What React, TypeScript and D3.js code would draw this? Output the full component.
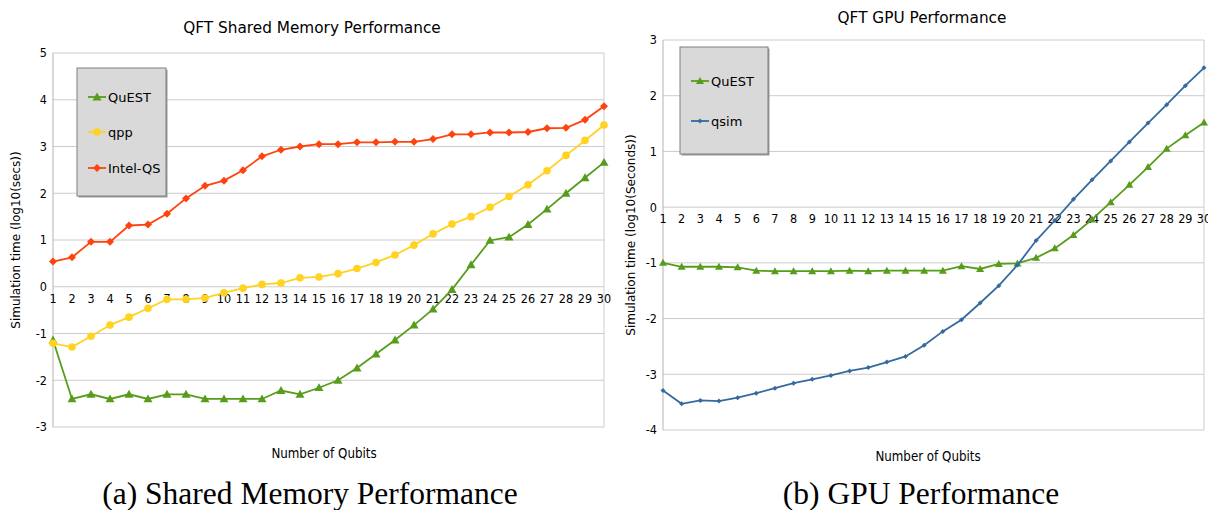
import React from "react";
import * as d3 from "d3";

const qubits = d3.range(1, 31);

// Shared memory chart
const smQuEST = [-1.14, -2.4, -2.3, -2.4, -2.3, -2.4, -2.3, -2.3, -2.4, -2.4, -2.4, -2.4, -2.22, -2.3, -2.16, -2.0, -1.74, -1.44, -1.14, -0.82, -0.48, -0.06, 0.47, 0.99, 1.06, 1.33, 1.66, 2.0, 2.33, 2.66];
const smQpp = [-1.21, -1.29, -1.06, -0.82, -0.65, -0.46, -0.27, -0.27, -0.24, -0.13, -0.03, 0.05, 0.08, 0.19, 0.21, 0.28, 0.39, 0.52, 0.68, 0.89, 1.13, 1.34, 1.5, 1.7, 1.93, 2.18, 2.48, 2.81, 3.13, 3.46];
const smIntel = [0.54, 0.63, 0.96, 0.96, 1.31, 1.33, 1.56, 1.89, 2.16, 2.27, 2.49, 2.79, 2.93, 3.0, 3.05, 3.05, 3.09, 3.09, 3.1, 3.1, 3.16, 3.26, 3.26, 3.3, 3.3, 3.31, 3.39, 3.4, 3.57, 3.86];
const smYTicks = [-3, -2, -1, 0, 1, 2, 3, 4, 5];

// GPU chart
const gpuQuEST = [-1.0, -1.07, -1.07, -1.07, -1.08, -1.14, -1.15, -1.15, -1.15, -1.15, -1.14, -1.15, -1.14, -1.14, -1.14, -1.14, -1.06, -1.11, -1.02, -1.01, -0.91, -0.74, -0.5, -0.22, 0.09, 0.4, 0.72, 1.05, 1.29, 1.52];
const gpuQsim = [-3.29, -3.53, -3.47, -3.48, -3.42, -3.34, -3.25, -3.16, -3.09, -3.02, -2.94, -2.88, -2.78, -2.68, -2.48, -2.23, -2.02, -1.72, -1.41, -1.04, -0.6, -0.24, 0.14, 0.49, 0.83, 1.17, 1.51, 1.84, 2.18, 2.5];
const gpuYTicks = [-4, -3, -2, -1, 0, 1, 2, 3];

type Marker = "triangle" | "circle" | "diamond";
interface Series {
  name: string;
  values: number[];
  color: string;
  marker: Marker;
  size: number;
}

const FONT = "DejaVu Sans Condensed, DejaVu Sans, sans-serif";

function markerPath(m: Marker, s: number) {
  if (m === "triangle") return `M0,${-s}L${s},${s * 0.75}L${-s},${s * 0.75}Z`;
  if (m === "diamond") return `M0,${-s}L${s},0L0,${s}L${-s},0Z`;
  return "";
}

function MarkerShape({ m, s, color, x, y }: { m: Marker; s: number; color: string; x: number; y: number }) {
  if (m === "circle") return <circle cx={x} cy={y} r={s} fill={color} />;
  return <path d={markerPath(m, s)} transform={`translate(${x},${y})`} fill={color} />;
}

interface ChartProps {
  title: string;
  titleX: number;
  titleY: number;
  x0: number;
  x1: number;
  yTop: number;
  yBottom: number;
  yTicks: number[];
  series: Series[];
  yLabel: string;
  yLabelX: number;
  xLabelX: number;
  xLabelY: number;
  legend: { x: number; y: number; w: number; h: number; rows: number[] };
  caption: string;
  captionX: number;
}

function Chart(p: ChartProps) {
  const x = d3.scaleLinear().domain([1, 30]).range([p.x0, p.x1]);
  const ymin = d3.min(p.yTicks)!;
  const ymax = d3.max(p.yTicks)!;
  const y = d3.scaleLinear().domain([ymin, ymax]).range([p.yBottom, p.yTop]);
  const line = d3
    .line<number>()
    .x((_, i) => x(qubits[i]))
    .y((d) => y(d));
  const yMid = (p.yTop + p.yBottom) / 2;
  return (
    <g>
      <text x={p.titleX} y={p.titleY} textAnchor="middle" fontFamily="DejaVu Sans, sans-serif" fontSize={15.3} fill="#000">
        {p.title}
      </text>
      {p.yTicks.map((t) => (
        <line key={t} x1={p.x0} x2={p.x1} y1={y(t)} y2={y(t)} stroke="#cccccc" strokeWidth={1} />
      ))}
      <line x1={p.x1} x2={p.x1} y1={p.yTop} y2={p.yBottom} stroke="#cccccc" />
      <line x1={p.x0} x2={p.x0} y1={p.yTop} y2={p.yBottom} stroke="#b3b3b3" />
      {p.yTicks.map((t) => (
        <text key={t} x={p.x0 - 6} y={y(t)} dy="0.35em" textAnchor="end" fontFamily={FONT} fontSize={12.5} fill="#000">
          {t}
        </text>
      ))}
      {qubits.map((q) => (
        <text key={q} x={x(q)} y={y(0) + 16} textAnchor="middle" fontFamily={FONT} fontSize={12.5} fill="#000">
          {q}
        </text>
      ))}
      {p.series.map((s) => (
        <g key={s.name}>
          <path d={line(s.values) || ""} fill="none" stroke={s.color} strokeWidth={1.8} />
          {s.values.map((v, i) => (
            <MarkerShape key={i} m={s.marker} s={s.size} color={s.color} x={x(qubits[i])} y={y(v)} />
          ))}
        </g>
      ))}
      <rect x={p.legend.x + 1.5} y={p.legend.y + 1.5} width={p.legend.w} height={p.legend.h} fill="#9a9a9a" />
      <rect x={p.legend.x} y={p.legend.y} width={p.legend.w} height={p.legend.h} fill="#d9d9d9" stroke="#808080" strokeWidth={1} />
      {p.series.map((s, i) => {
        const ly = p.legend.rows[i];
        const lx = p.legend.x + 11;
        return (
          <g key={s.name}>
            <line x1={lx} x2={lx + 18} y1={ly} y2={ly} stroke={s.color} strokeWidth={1.8} />
            <MarkerShape m={s.marker} s={s.size} color={s.color} x={lx + 9} y={ly} />
            <text x={lx + 20} y={ly} dy="0.35em" fontFamily="DejaVu Sans, sans-serif" fontSize={13} fill="#000">
              {s.name}
            </text>
          </g>
        );
      })}
      <text x={p.xLabelX} y={p.xLabelY} textAnchor="middle" fontFamily={FONT} fontSize={13.2} fill="#000">
        Number of Qubits
      </text>
      <text
        transform={`translate(${p.yLabelX},${yMid}) rotate(-90)`}
        textAnchor="middle"
        dy="0.35em"
        fontFamily="DejaVu Sans, sans-serif"
        fontSize={12}
        fill="#000"
      >
        {p.yLabel}
      </text>
      <text x={p.captionX} y={504} textAnchor="middle" fontFamily="Liberation Serif, DejaVu Serif, serif" fontSize={31.5} fill="#000">
        {p.caption}
      </text>
    </g>
  );
}

export default function App() {
  const green = "#579d1c";
  const yellow = "#ffd320";
  const orange = "#ff420e";
  const blue = "#356aa0";
  return (
    <svg width={1208} height={510} style={{ position: "absolute", left: 0, top: 0, background: "#fff" }}>
      <rect width={1208} height={510} fill="#fff" />
      <Chart
        title="QFT Shared Memory Performance"
        titleX={312}
        titleY={33}
        x0={53}
        x1={604}
        yTop={53}
        yBottom={427}
        yTicks={smYTicks}
        series={[
          { name: "QuEST", values: smQuEST, color: green, marker: "triangle", size: 4.5 },
          { name: "qpp", values: smQpp, color: yellow, marker: "circle", size: 3.8 },
          { name: "Intel-QS", values: smIntel, color: orange, marker: "diamond", size: 4 },
        ]}
        yLabel="Simulation time (log10(secs))"
        yLabelX={16}
        xLabelX={324}
        xLabelY={458}
        legend={{ x: 77, y: 68, w: 89, h: 128, rows: [97, 132, 168] }}
        caption="(a) Shared Memory Performance"
        captionX={310}
      />
      <Chart
        title="QFT GPU Performance"
        titleX={922}
        titleY={23}
        x0={663}
        x1={1204}
        yTop={40}
        yBottom={430}
        yTicks={gpuYTicks}
        series={[
          { name: "QuEST", values: gpuQuEST, color: green, marker: "triangle", size: 4 },
          { name: "qsim", values: gpuQsim, color: blue, marker: "diamond", size: 2.5 },
        ]}
        yLabel="Simulation time (log10(Seconds))"
        yLabelX={631}
        xLabelX={928}
        xLabelY={461}
        legend={{ x: 680, y: 47, w: 88, h: 107, rows: [81, 121] }}
        caption="(b) GPU Performance"
        captionX={921}
      />
    </svg>
  );
}
